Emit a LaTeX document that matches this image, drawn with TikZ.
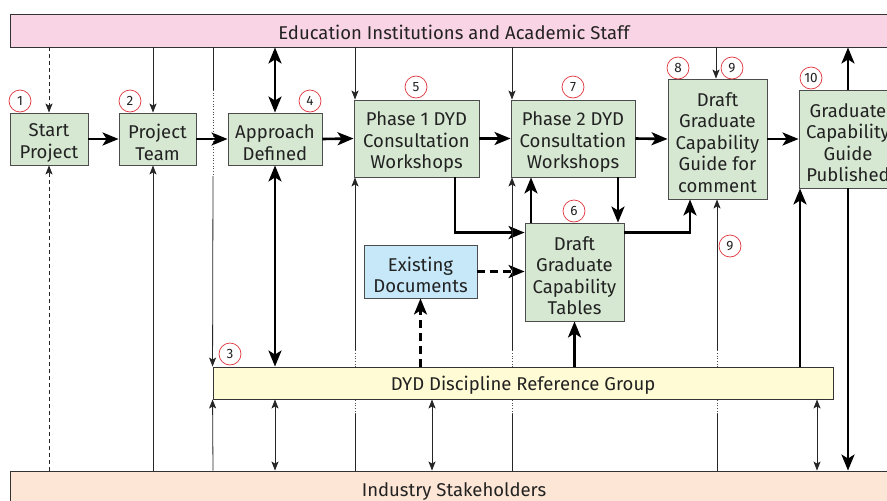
\documentclass[tikz,border=0pt]{standalone}
\usepackage{fontspec}
\setmainfont{Fira Sans}
\usetikzlibrary{arrows.meta,calc}
\definecolor{gfill}{HTML}{D6E8D2}
\definecolor{bfill}{HTML}{C6E8F8}
\definecolor{yfill}{HTML}{FFFBD5}
\definecolor{pfill}{HTML}{F9D4E5}
\definecolor{ofill}{HTML}{FDE6D5}
\definecolor{numred}{HTML}{E0343C}
\definecolor{txt}{HTML}{222222}
\newcommand{\tpad}{\rule{0pt}{21pt}}
\tikzset{
  box/.style={draw=black!70, line width=0.9pt, align=center, inner sep=0pt, text=txt,
    font=\fontsize{18.5}{21.5}\selectfont},
  gbox/.style={box, fill=gfill},
  bar/.style={draw=black!80, line width=0.9pt, inner sep=0pt, text=txt,
    font=\fontsize{18.5}{20}\selectfont, execute at begin node={\rule{0pt}{18pt}}},
  num/.style={circle, draw=numred, line width=0.7pt, minimum size=22pt, inner sep=0pt,
    text=txt, font=\fontsize{13.5}{13.5}\selectfont},
  thk/.style={line width=2.6pt, -{Stealth[length=16pt,width=13pt,inset=4pt]}},
  thkd/.style={line width=2.6pt, {Stealth[length=16pt,width=13pt,inset=4pt]}-{Stealth[length=16pt,width=13pt,inset=4pt]}},
  thkdash/.style={dash pattern=on 8pt off 5pt},
  thn/.style={line width=0.8pt, black!85, -{Stealth[length=9pt,width=7pt,inset=2pt]}},
  thnd/.style={line width=0.8pt, black!85, {Stealth[length=9pt,width=7pt,inset=2pt]}-{Stealth[length=9pt,width=7pt,inset=2pt]}},
  thndash/.style={dash pattern=on 4pt off 3pt},
  thnplain/.style={line width=0.8pt, black!85},
  thndot/.style={line width=0.7pt, black!70, dotted},
}
\begin{document}
\begin{tikzpicture}[x=1pt,y=-1pt]
\clip (0,0) rectangle (887,501);
\fill[white] (0,0) rectangle (887,501);

% bars
\node[bar, fill=pfill, minimum width=888pt, minimum height=33pt] (edu) at (454,30.5) {Education Institutions and Academic Staff};
\node[bar, fill=ofill, minimum width=888pt, minimum height=36pt] (ind) at (454,489) {Industry Stakeholders};

% boxes
\node[gbox, minimum width=78pt, minimum height=52pt] (start) at (49,139) {\tpad Start\\Project};
\node[gbox, minimum width=77pt, minimum height=52pt] (team) at (157.5,139) {\tpad Project\\Team};
\node[gbox, minimum width=94pt, minimum height=52pt] (appr) at (275,139) {\tpad Approach\\Defined};
\node[gbox, minimum width=125pt, minimum height=77pt] (p1) at (416.5,138.5) {\tpad Phase 1 DYD\\Consultation\\Workshops};
\node[gbox, minimum width=124pt, minimum height=77pt] (p2) at (573,138.5) {\tpad Phase 2 DYD\\Consultation\\Workshops};
\node[gbox, minimum width=99pt, minimum height=120pt] (guide) at (717.5,139) {\tpad Draft\\Graduate\\Capability\\Guide for\\comment};
\node[gbox, minimum width=98pt, minimum height=98pt] (pub) at (848,139) {\tpad Graduate\\Capability\\Guide\\Published};
\node[gbox, minimum width=99pt, minimum height=98pt] (tab) at (574.5,272) {\tpad Draft\\Graduate\\Capability\\Tables};
\node[box, fill=bfill, minimum width=113pt, minimum height=53pt] (ex) at (420.5,271.5) {\tpad Existing\\Documents};
\node[bar, fill=yfill, minimum width=620pt, minimum height=32pt] (dyd) at (523,383) {DYD Discipline Reference Group};

% numbers
\node[num] (n1) at (20,101) {1};
\node[num] (n2) at (130,101) {2};
\node[num] (n3) at (230,354) {3};
\node[num] (n4) at (310,101) {4};
\node[num] (n5) at (416,87) {5};
\node[num] (n6) at (574,211) {6};
\node[num] (n7) at (573,87) {7};
\node[num] (n8) at (678,68) {8};
\node[num] (n9a) at (732,68) {9};
\node[num] (n9b) at (730,246) {9};
\node[num] (n10) at (811,78) {10};

% main flow
\draw[thk] (start.east) -- (team.west);
\draw[thk] (team.east) -- (appr.west);
\draw[thk] (appr.east) -- (p1.west);
\draw[thk] (p1.east) -- (p2.west);
\draw[thk] (p2.east) -- (guide.west);
\draw[thk] (guide.east) -- (pub.west);

% from top bar
\draw[thn, thndash] (start.north |- edu.south) -- (start.north);
\coordinate (tx) at (153,0);
\draw[thn] (tx |- edu.south) -- (tx |- team.north);
\coordinate (dx) at (213,0);
\draw[thnplain] (dx |- edu.south) -- (213,90);
\draw[thndot] (213,90) -- (213,176);
\draw[thn] (213,176) -- (dyd.north west);
\draw[thkd] (appr.north |- edu.south) -- (appr.north);
\coordinate (p1x) at (355,0);
\draw[thn] (p1x |- edu.south) -- (p1x |- p1.north);
\coordinate (p2x) at (512,0);
\draw[thn] (p2x |- edu.south) -- (p2x |- p2.north);
\coordinate (gx) at (716,0);
\draw[thn] (gx |- edu.south) -- (gx |- guide.north);
\draw[thk] (pub.north) -- (pub.north |- edu.south);
\draw[thk] (pub.south) -- (pub.south |- ind.north);

% middle
\coordinate (p1o) at (455,0);
\draw[thk] (p1o |- p1.south) |- ([yshift=-10pt]tab.north west);
\draw[thk, thkdash] (ex.east) -- (ex.east -| tab.west);
\coordinate (tl) at (531,0);
\draw[thk] (tl |- tab.north) -- (tl |- p2.south);
\coordinate (tr) at (618,0);
\draw[thk] (tr |- p2.south) -- (tr |- tab.north);
\coordinate (gl) at (690,0);
\draw[thk] ([yshift=-10pt]tab.north east) -| (gl |- guide.south);
\draw[thk, thkdash] (ex.south |- dyd.north) -- (ex.south);
\draw[thk] (tab.south |- dyd.north) -- (tab.south);
\coordinate (px) at (800,0);
\draw[thk] (px |- dyd.north) -- (px |- pub.south);
\draw[thkd] (appr.south) -- (appr.south |- dyd.north);

% from bottom bar
\draw[thn, thndash] (start.south |- ind.north) -- (start.south);
\draw[thn] (tx |- ind.north) -- (tx |- team.south);
\draw[thn] (dx |- ind.north) -- (dyd.south west);
\draw[thnd] (appr.south |- dyd.south) -- (appr.south |- ind.north);
\coordinate (ex2) at (432,0);
\draw[thnd] (ex2 |- dyd.south) -- (ex2 |- ind.north);
\coordinate (rx) at (817,0);
\draw[thnd] (rx |- dyd.south) -- (rx |- ind.north);

% lines passing behind the reference group
\foreach \xx/\tgt in {355/p1, 512/p2, 717/guide}{
  \draw[thnplain] (\xx,471) -- (\xx,414);
  \draw[thndot] (\xx,414) -- (\xx,399);
  \draw[thndot] (\xx,367) -- (\xx,350);
  \draw[thn] (\xx,350) -- (\xx,0 |- \tgt.south);
}
\end{tikzpicture}
\end{document}
